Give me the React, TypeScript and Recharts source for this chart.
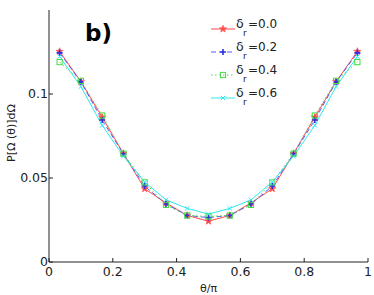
import { LineChart, Line, XAxis, YAxis, Legend, Label } from 'recharts'

const THETA = [0.0333, 0.1, 0.1667, 0.2333, 0.3, 0.3667, 0.4333, 0.5, 0.5667, 0.6333, 0.7, 0.7667, 0.8333, 0.9, 0.9667]
const P_D00 = [0.1253, 0.1074, 0.0862, 0.0645, 0.0436, 0.0352, 0.0277, 0.0243, 0.0277, 0.0352, 0.0436, 0.0645, 0.0862, 0.1074, 0.1253]
const P_D02 = [0.1245, 0.1072, 0.0845, 0.0643, 0.0452, 0.0345, 0.0277, 0.0264, 0.0277, 0.0345, 0.0452, 0.0643, 0.0845, 0.1072, 0.1245]
const P_D04 = [0.119, 0.1078, 0.0872, 0.0645, 0.0474, 0.034, 0.0277, 0.0271, 0.0277, 0.034, 0.0474, 0.0645, 0.0872, 0.1078, 0.119]
const P_D06 = [0.1223, 0.1044, 0.0813, 0.063, 0.0476, 0.037, 0.0319, 0.0285, 0.0319, 0.037, 0.0476, 0.063, 0.0813, 0.1044, 0.1223]

const X_TICKS = [0, 0.2, 0.4, 0.6, 0.8, 1]
const Y_TICKS = [0, 0.05, 0.1]
const DELTA_LABELS = ['0.0', '0.2', '0.4', '0.6']

const data = THETA.map((t, i) => ({
  t,
  d0: P_D00[i],
  d2: P_D02[i],
  d4: P_D04[i],
  d6: P_D06[i],
}))

type Kind = 'star' | 'plus' | 'square' | 'x'

const SERIES: { key: string; color: string; dash?: string; kind: Kind }[] = [
  { key: 'd0', color: '#ff4b4b', kind: 'star' },
  { key: 'd2', color: '#5a5aff', dash: '5 3', kind: 'plus' },
  { key: 'd4', color: '#44dd44', dash: '1.5 2.5', kind: 'square' },
  { key: 'd6', color: '#2ee8ee', kind: 'x' },
]

const FONT = '"DejaVu Sans", sans-serif'
const INK = '#222'

function starPoints(cx: number, cy: number, ro: number, ri: number) {
  const pts: string[] = []
  for (let k = 0; k < 10; k++) {
    const r = k % 2 === 0 ? ro : ri
    const a = -Math.PI / 2 + (k * Math.PI) / 5
    pts.push(`${cx + r * Math.cos(a)},${cy + r * Math.sin(a)}`)
  }
  return pts.join(' ')
}

function Marker({ kind, cx, cy, color }: { kind: Kind; cx?: number; cy?: number; color: string }) {
  if (cx == null || cy == null) return null
  if (kind === 'star')
    return <polygon points={starPoints(cx, cy, 3.8, 1.6)} fill={color} stroke={color} strokeWidth={0.6} />
  if (kind === 'plus')
    return (
      <path
        d={`M${cx - 3},${cy}H${cx + 3}M${cx},${cy - 3}V${cy + 3}`}
        stroke="#3030e0"
        strokeWidth={1.6}
        fill="none"
      />
    )
  if (kind === 'square')
    return <rect x={cx - 2.6} y={cy - 2.6} width={5.2} height={5.2} fill="none" stroke={color} strokeWidth={1} />
  return (
    <path
      d={`M${cx - 2.2},${cy - 2.2}L${cx + 2.2},${cy + 2.2}M${cx - 2.2},${cy + 2.2}L${cx + 2.2},${cy - 2.2}`}
      stroke={color}
      strokeWidth={1}
      fill="none"
    />
  )
}

function LegendBox() {
  return (
    <svg width={90} height={95} style={{ display: 'block', overflow: 'visible' }}>
      {SERIES.map((s, i) => {
        const y = 12 + i * 23
        return (
          <g key={s.key}>
            <line x1={3} x2={27} y1={y} y2={y} stroke={s.color} strokeWidth={1} strokeDasharray={s.dash} />
            <Marker kind={s.kind} cx={15} cy={y} color={s.color} />
            <text x={28} y={y - 1} fontFamily={FONT} fontSize={12.5} fill={INK}>δ</text>
            <text x={35} y={y + 7} fontFamily={FONT} fontSize={9} fill={INK}>r</text>
            <text x={40} y={y - 1} fontFamily={FONT} fontSize={12} fill={INK}>
              ={DELTA_LABELS[i]}
            </text>
          </g>
        )
      })}
    </svg>
  )
}

const fmt = (v: number) => String(v)

export default function App() {
  return (
    <div style={{ position: 'absolute', left: 0, top: 0, width: 374, height: 295, background: '#fff' }}>
      <LineChart width={374} height={295} data={data} margin={{ top: 10, right: 6, bottom: 0, left: 0 }}>
        <XAxis
          dataKey="t"
          type="number"
          domain={[0, 1]}
          ticks={X_TICKS}
          tickFormatter={fmt}
          height={33}
          tickSize={-4}
          tickMargin={9}
          stroke={INK}
          tick={{ fill: INK, fontSize: 12.5, fontFamily: FONT }}
        >
          <Label
            content={({ viewBox }: any) => (
              <text
                x={viewBox.x + viewBox.width / 2}
                y={viewBox.y + 30}
                textAnchor="middle"
                fontFamily={FONT}
                fontSize={11}
                fill={INK}
              >
                θ/π
              </text>
            )}
          />
        </XAxis>
        <XAxis
          xAxisId="top"
          orientation="top"
          type="number"
          domain={[0, 1]}
          ticks={X_TICKS}
          height={0}
          tick={false}
          tickSize={-4}
          stroke={INK}
        />
        <YAxis
          type="number"
          domain={[0, 0.15]}
          ticks={Y_TICKS}
          tickFormatter={fmt}
          width={49}
          tickSize={-4}
          tickMargin={5}
          stroke={INK}
          tick={{ fill: INK, fontSize: 12.5, fontFamily: FONT }}
        >
          <Label
            content={({ viewBox }: any) => {
              const x = 15
              const y = viewBox.y + viewBox.height / 2 - 3
              return (
                <text
                  x={x}
                  y={y}
                  transform={`rotate(-90, ${x}, ${y})`}
                  textAnchor="middle"
                  fontFamily={FONT}
                  fontSize={11}
                  fill={INK}
                >
                  P[Ω (θ)]dΩ
                </text>
              )
            }}
          />
        </YAxis>
        <YAxis
          yAxisId="right"
          orientation="right"
          type="number"
          domain={[0, 0.15]}
          ticks={Y_TICKS}
          width={0}
          tick={false}
          tickSize={-4}
          stroke={INK}
        />
        {SERIES.map((s) => (
          <Line
            key={s.key}
            dataKey={s.key}
            stroke={s.color}
            strokeWidth={1}
            strokeDasharray={s.dash}
            isAnimationActive={false}
            dot={(p: any) => <Marker key={`${s.key}-${p.index}`} kind={s.kind} cx={p.cx} cy={p.cy} color={s.color} />}
            activeDot={false}
          />
        ))}
        <Legend
          layout="vertical"
          align="center"
          verticalAlign="middle"
          content={() => <LegendBox />}
          wrapperStyle={{ position: 'absolute', left: 208, top: 17, width: 90, height: 95 }}
        />
      </LineChart>
      <div
        style={{
          position: 'absolute',
          left: 85,
          top: 18,
          fontFamily: FONT,
          fontWeight: 'bold',
          fontSize: 23,
          color: '#000',
          lineHeight: '30px',
        }}
      >
        b)
      </div>
    </div>
  )
}
